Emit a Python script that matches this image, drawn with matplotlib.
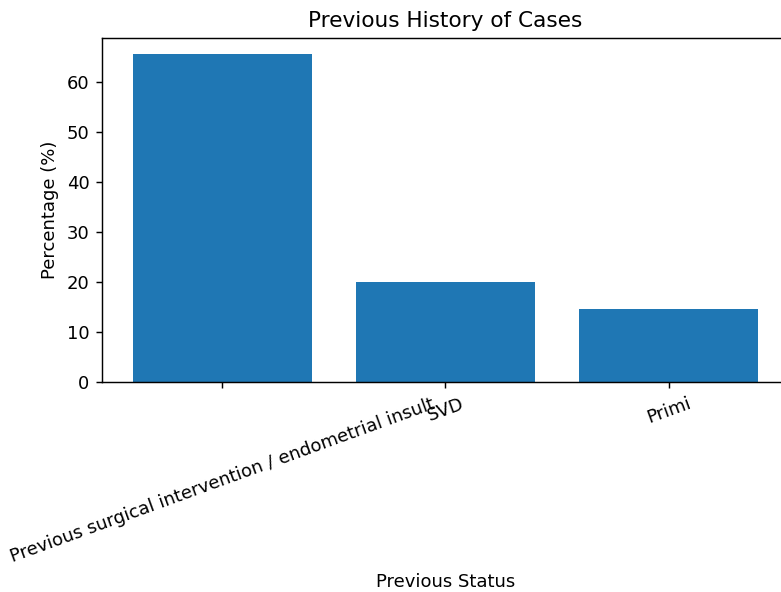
import matplotlib
matplotlib.use("Agg")
import matplotlib.pyplot as plt

# datos
categories = ["Previous surgical intervention / endometrial insult", "SVD", "Primi"]
percentages = [65.45, 20.0, 14.55]

# la original parece renderizada a mayor escala
s = 1.3
plt.rcParams.update({
    "font.size": 10 * s,
    "axes.linewidth": 0.8 * s,
    "xtick.major.size": 3.5 * s,
    "ytick.major.size": 3.5 * s,
    "xtick.major.width": 0.8 * s,
    "ytick.major.width": 0.8 * s,
    "xtick.major.pad": 3.5 * s,
    "ytick.major.pad": 3.5 * s,
    "axes.titlepad": 6 * s,
    "axes.labelpad": 4 * s,
})

fig = plt.figure(figsize=(7.81, 5.92), dpi=100)
# el eje derecho queda fuera de la imagen, como en la original
ax = fig.add_axes([102 / 781, 210 / 592, 687 / 781, 344 / 592])

ax.bar(categories, percentages, color="#1f77b4")
ax.set_title("Previous History of Cases", fontsize=12 * s)
ax.set_xlabel("Previous Status")
ax.set_ylabel("Percentage (%)")
plt.setp(ax.get_xticklabels(), rotation=20)

fig.savefig("out.png", dpi=100)
